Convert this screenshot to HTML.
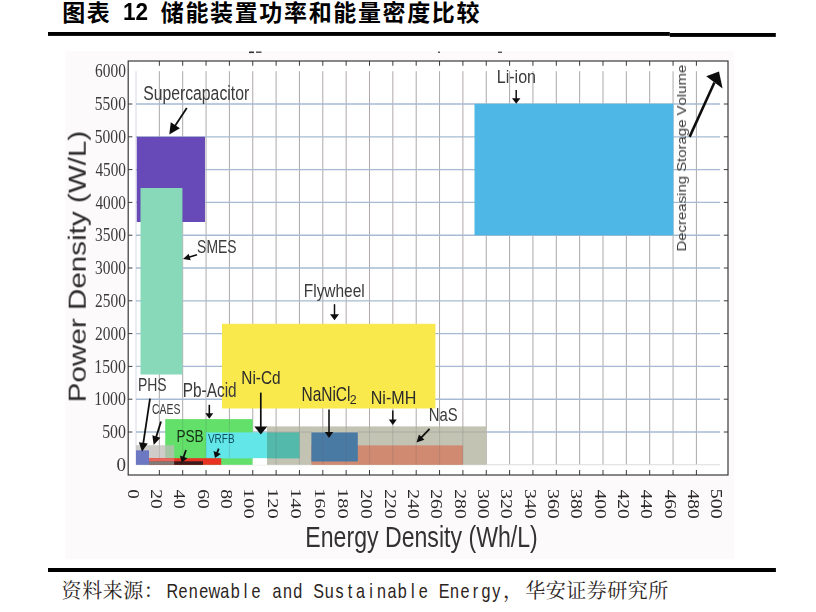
<!DOCTYPE html>
<html lang="zh"><head><meta charset="utf-8"><title>图表 12 储能装置功率和能量密度比较</title>
<style>
html,body{margin:0;padding:0;background:#fff;}
body{width:816px;height:612px;overflow:hidden;font-family:"Liberation Sans",sans-serif;}
svg{display:block;position:absolute;left:0;top:0}
svg text{font-kerning:none;white-space:pre}
</style></head><body>
<svg width="816" height="612" viewBox="0 0 816 612" role="img" aria-label="图表 12 储能装置功率和能量密度比较 — 资料来源：Renewable and Sustainable Energy，华安证券研究所">
<rect width="816" height="612" fill="#fff"/>
<!-- rules -->
<rect x="48" y="32" width="621.8" height="3.9" fill="#000"/>
<rect x="669.8" y="33" width="106" height="3.9" fill="#000"/>
<rect x="48" y="568" width="727.9" height="4" fill="#000"/>
<defs><filter id="soft" x="0" y="0" width="816" height="612" filterUnits="userSpaceOnUse"><feGaussianBlur stdDeviation="0.45"/></filter><filter id="crisp" x="100" y="0" width="80" height="30" filterUnits="userSpaceOnUse"><feGaussianBlur stdDeviation="0.12"/></filter></defs>
<g id="chart" filter="url(#soft)">
<rect x="65.5" y="51.5" width="668.5" height="507.8" fill="#fcfafa"/>
<rect x="128.2" y="61" width="599.8" height="414" fill="#fff"/>
<g id="grid">
<line x1="136" y1="71.2" x2="136" y2="464.8" stroke="#d3dae4" stroke-width="1"/>
<line x1="159.35" y1="71.2" x2="159.35" y2="464.8" stroke="#aea8a8" stroke-width="1"/>
<line x1="182.7" y1="71.2" x2="182.7" y2="464.8" stroke="#aea8a8" stroke-width="1"/>
<line x1="206.05" y1="71.2" x2="206.05" y2="464.8" stroke="#aea8a8" stroke-width="1"/>
<line x1="229.4" y1="71.2" x2="229.4" y2="464.8" stroke="#aea8a8" stroke-width="1"/>
<line x1="252.75" y1="71.2" x2="252.75" y2="464.8" stroke="#aea8a8" stroke-width="1"/>
<line x1="276.1" y1="71.2" x2="276.1" y2="464.8" stroke="#aea8a8" stroke-width="1"/>
<line x1="299.45" y1="71.2" x2="299.45" y2="464.8" stroke="#aea8a8" stroke-width="1"/>
<line x1="322.8" y1="71.2" x2="322.8" y2="464.8" stroke="#aea8a8" stroke-width="1"/>
<line x1="346.15" y1="71.2" x2="346.15" y2="464.8" stroke="#aea8a8" stroke-width="1"/>
<line x1="369.5" y1="71.2" x2="369.5" y2="464.8" stroke="#aea8a8" stroke-width="1"/>
<line x1="392.85" y1="71.2" x2="392.85" y2="464.8" stroke="#aea8a8" stroke-width="1"/>
<line x1="416.2" y1="71.2" x2="416.2" y2="464.8" stroke="#aea8a8" stroke-width="1"/>
<line x1="439.55" y1="71.2" x2="439.55" y2="464.8" stroke="#aea8a8" stroke-width="1"/>
<line x1="462.9" y1="71.2" x2="462.9" y2="464.8" stroke="#aea8a8" stroke-width="1"/>
<line x1="486.25" y1="71.2" x2="486.25" y2="464.8" stroke="#aea8a8" stroke-width="1"/>
<line x1="509.6" y1="71.2" x2="509.6" y2="464.8" stroke="#aea8a8" stroke-width="1"/>
<line x1="532.95" y1="71.2" x2="532.95" y2="464.8" stroke="#aea8a8" stroke-width="1"/>
<line x1="556.3" y1="71.2" x2="556.3" y2="464.8" stroke="#aea8a8" stroke-width="1"/>
<line x1="579.65" y1="71.2" x2="579.65" y2="464.8" stroke="#aea8a8" stroke-width="1"/>
<line x1="603" y1="71.2" x2="603" y2="464.8" stroke="#aea8a8" stroke-width="1"/>
<line x1="626.35" y1="71.2" x2="626.35" y2="464.8" stroke="#aea8a8" stroke-width="1"/>
<line x1="649.7" y1="71.2" x2="649.7" y2="464.8" stroke="#aea8a8" stroke-width="1"/>
<line x1="673.05" y1="71.2" x2="673.05" y2="464.8" stroke="#aea8a8" stroke-width="1"/>
<line x1="696.4" y1="71.2" x2="696.4" y2="464.8" stroke="#aea8a8" stroke-width="1"/>
<line x1="136" y1="432" x2="720.05" y2="432" stroke="#a6bbd1" stroke-width="1.35"/>
<line x1="136" y1="399.2" x2="720.05" y2="399.2" stroke="#a6bbd1" stroke-width="1.35"/>
<line x1="136" y1="366.4" x2="720.05" y2="366.4" stroke="#a6bbd1" stroke-width="1.35"/>
<line x1="136" y1="333.6" x2="720.05" y2="333.6" stroke="#a6bbd1" stroke-width="1.35"/>
<line x1="136" y1="300.8" x2="720.05" y2="300.8" stroke="#a6bbd1" stroke-width="1.35"/>
<line x1="136" y1="268" x2="720.05" y2="268" stroke="#a6bbd1" stroke-width="1.35"/>
<line x1="136" y1="235.2" x2="720.05" y2="235.2" stroke="#a6bbd1" stroke-width="1.35"/>
<line x1="136" y1="202.4" x2="720.05" y2="202.4" stroke="#a6bbd1" stroke-width="1.35"/>
<line x1="136" y1="169.6" x2="720.05" y2="169.6" stroke="#a6bbd1" stroke-width="1.35"/>
<line x1="136" y1="136.8" x2="720.05" y2="136.8" stroke="#a6bbd1" stroke-width="1.35"/>
<line x1="136" y1="104" x2="720.05" y2="104" stroke="#a6bbd1" stroke-width="1.35"/>
<line x1="136" y1="464.8" x2="720.05" y2="464.8" stroke="#dcdcdc" stroke-width="1.1"/>
</g>
<g id="boxes">
<rect x="136.8" y="136.8" width="68.2" height="85.2" fill="#6748b8"/>
<rect x="140.5" y="188" width="41.9" height="186.5" fill="#88d9ba"/>
<rect x="474.5" y="103.8" width="198.9" height="131.4" fill="#50b7e6"/>
<rect x="222" y="323.8" width="213.4" height="84.7" fill="#f9e94e"/>
<rect x="267" y="426.4" width="219.3" height="38.4" fill="#c3c3b3"/>
<rect x="165.2" y="419.1" width="87.5" height="45.7" fill="#62e06a"/>
<rect x="136" y="445.2" width="38.2" height="19.6" fill="#bdbcb8" fill-opacity="0.75"/>
<rect x="136" y="450.3" width="13" height="14.5" fill="#6c78c2"/>
<rect x="206" y="432.4" width="61" height="26" fill="#62e6e8"/>
<rect x="267" y="432.4" width="32.5" height="26" fill="#52b9aa"/>
<rect x="252.7" y="458.4" width="14.3" height="6.4" fill="#ffffff"/>
<rect x="311.4" y="445.4" width="151.5" height="19.4" fill="#d08a72"/>
<rect x="311.4" y="432.4" width="46.4" height="29.1" fill="#4a7aa4"/>
<rect x="149" y="458.2" width="72.2" height="6.6" fill="#e83222"/>
<rect x="149" y="458.2" width="25.2" height="3.1" fill="#e8665c"/>
<rect x="149" y="461.3" width="25.2" height="3.5" fill="#7f7b78"/>
<rect x="174.2" y="461.3" width="28.8" height="3.5" fill="#3a1c1a"/>
</g>
<path d="M276.1 426.6V464.6M299.45 426.6V464.6M322.8 426.6V464.6M346.15 426.6V464.6M369.5 426.6V464.6M392.85 426.6V464.6M416.2 426.6V464.6M439.55 426.6V464.6M462.9 426.6V464.6M182.7 419.3V458M206.05 419.3V458M229.4 419.3V458M267.2 432H311.4M357.8 432H486" stroke="#5a5a5a" stroke-opacity="0.2" stroke-width="1" fill="none"/>
<g id="frame" stroke="#3a3a3a" stroke-width="1.2" fill="none">
<rect x="128.2" y="61" width="599.8" height="414"/>
<path d="M159.35 475V470M159.35 61V65.8M182.7 475V470M182.7 61V65.8M206.05 475V470M206.05 61V65.8M229.4 475V470M229.4 61V65.8M252.75 475V470M252.75 61V65.8M276.1 475V470M276.1 61V65.8M299.45 475V470M299.45 61V65.8M322.8 475V470M322.8 61V65.8M346.15 475V470M346.15 61V65.8M369.5 475V470M369.5 61V65.8M392.85 475V470M392.85 61V65.8M416.2 475V470M416.2 61V65.8M439.55 475V470M439.55 61V65.8M462.9 475V470M462.9 61V65.8M486.25 475V470M486.25 61V65.8M509.6 475V470M509.6 61V65.8M532.95 475V470M532.95 61V65.8M556.3 475V470M556.3 61V65.8M579.65 475V470M579.65 61V65.8M603 475V470M603 61V65.8M626.35 475V470M626.35 61V65.8M649.7 475V470M649.7 61V65.8M673.05 475V470M673.05 61V65.8M696.4 475V470M696.4 61V65.8M128.2 432H132.4M728 432H723.8M128.2 399.2H132.4M728 399.2H723.8M128.2 366.4H132.4M728 366.4H723.8M128.2 333.6H132.4M728 333.6H723.8M128.2 300.8H132.4M728 300.8H723.8M128.2 268H132.4M728 268H723.8M128.2 235.2H132.4M728 235.2H723.8M128.2 202.4H132.4M728 202.4H723.8M128.2 169.6H132.4M728 169.6H723.8M128.2 136.8H132.4M728 136.8H723.8M128.2 104H132.4M728 104H723.8" stroke-width="1"/>
</g>
<rect x="249" y="51.5" width="5" height="1.6" fill="#333"/><rect x="256" y="51.5" width="5.5" height="1.4" fill="#444"/><rect x="438" y="51.6" width="2" height="1.3" fill="#444"/><rect x="498" y="51.6" width="4" height="1.3" fill="#444"/>
<g id="arrows">
<line x1="186.8" y1="108" x2="174.81" y2="126.16" stroke="#111" stroke-width="1.8"/>
<path d="M169.3 134.5L170.77 122.29L179.95 128.35Z" fill="#111"/>
<line x1="197" y1="254.8" x2="188.75" y2="257.28" stroke="#111" stroke-width="1.7"/>
<path d="M183 259L188.7 253.64L190.71 260.34Z" fill="#111"/>
<line x1="516.2" y1="90" x2="516.2" y2="99.3" stroke="#111" stroke-width="1.5"/>
<path d="M516.2 103.8L511.95 98.3L520.45 98.3Z" fill="#111"/>
<line x1="334.5" y1="304.2" x2="334.5" y2="315.3" stroke="#111" stroke-width="1.5"/>
<path d="M334.5 320.3L330 314.3L339 314.3Z" fill="#111"/>
<line x1="689.6" y1="136.9" x2="714.4" y2="82.5" stroke="#111" stroke-width="2.6"/><path d="M706.2 76.3L719 71.4L722.6 88.6Z" fill="#111"/>
<line x1="260.8" y1="392.6" x2="260.8" y2="427.5" stroke="#111" stroke-width="1.7"/>
<path d="M260.8 434.5L254.3 426.5L267.3 426.5Z" fill="#111"/>
<line x1="329" y1="409.4" x2="329" y2="433" stroke="#111" stroke-width="1.6"/>
<path d="M329 438L324.75 432L333.25 432Z" fill="#111"/>
<line x1="392.8" y1="410.5" x2="392.8" y2="420.5" stroke="#111" stroke-width="1.5"/>
<path d="M392.8 425L388.8 419.5L396.8 419.5Z" fill="#111"/>
<line x1="429.6" y1="428.8" x2="420.98" y2="437.89" stroke="#111" stroke-width="1.8"/>
<path d="M416.5 442.6L418.94 434.58L424.38 439.74Z" fill="#111"/>
<line x1="209.3" y1="404.8" x2="209.3" y2="414.2" stroke="#111" stroke-width="1.6"/>
<path d="M209.3 418.7L205.3 413.2L213.3 413.2Z" fill="#111"/>
<line x1="150" y1="398.7" x2="143.19" y2="443.79" stroke="#111" stroke-width="1.8"/>
<path d="M142 451.7L138.89 442.13L147.79 443.47Z" fill="#111"/>
<line x1="161" y1="421.5" x2="156.07" y2="437.36" stroke="#111" stroke-width="1.8"/>
<path d="M153.7 445L152.31 435.14L160.43 437.67Z" fill="#111"/>
<line x1="186" y1="450" x2="183.33" y2="457.77" stroke="#111" stroke-width="1.8"/>
<path d="M181.7 462.5L179.87 455.53L187.43 458.13Z" fill="#111"/>
<line x1="218.7" y1="448.7" x2="216.85" y2="453.35" stroke="#111" stroke-width="1.8"/>
<path d="M215 458L213.5 450.95L220.93 453.9Z" fill="#111"/>
</g>
<g id="labels" style="font-kerning:none">
<text transform="translate(143.21 99.7) scale(0.8056 1)" font-family="Liberation Sans" font-size="19.57" fill="#3a3a3a">Supercapacitor</text>
<text transform="translate(197.1 253.3) scale(0.7507 1)" font-family="Liberation Sans" font-size="18.57" fill="#3a3a3a">SMES</text>
<text transform="translate(496.71 82.5) scale(0.8538 1)" font-family="Liberation Sans" font-size="18.84" fill="#3a3a3a">Li-ion</text>
<text transform="translate(303.76 296.7) scale(0.8213 1)" font-family="Liberation Sans" font-size="18.84" fill="#3a3a3a">Flywheel</text>
<text transform="translate(241.27 384) scale(0.8171 1)" font-family="Liberation Sans" font-size="18.84" fill="#2a2a2a">Ni-Cd</text>
<text transform="translate(301.46 400.7) scale(0.7693 1)" font-family="Liberation Sans" font-size="20.14" fill="#2a2a2a">NaNiCl</text>
<text transform="translate(349.68 404.3) scale(0.9857 1)" font-family="Liberation Sans" font-size="12.57" fill="#2a2a2a">2</text>
<text transform="translate(370.71 403.6) scale(0.8819 1)" font-family="Liberation Sans" font-size="18.26" fill="#2a2a2a">Ni-MH</text>
<text transform="translate(428.81 421) scale(0.8189 1)" font-family="Liberation Sans" font-size="18.12" fill="#3a3a3a">NaS</text>
<text transform="translate(137.88 390.7) scale(0.7313 1)" font-family="Liberation Sans" font-size="19.13" fill="#3a3a3a">PHS</text>
<text transform="translate(182.77 397) scale(0.7584 1)" font-family="Liberation Sans" font-size="20.29" fill="#3a3a3a">Pb-Acid</text>
<text transform="translate(151.98 414) scale(0.7319 1)" font-family="Liberation Sans" font-size="14.29" fill="#3a3a3a">CAES</text>
<text transform="translate(176.41 441.7) scale(0.8042 1)" font-family="Liberation Sans" font-size="16.96" fill="#163016">PSB</text>
<text transform="translate(207.9 443) scale(0.7419 1)" font-family="Liberation Sans" font-size="13.48" fill="#10505e">VRFB</text>
<text transform="translate(305.35 547) scale(0.8055 1)" font-family="Liberation Sans" font-size="28.7" fill="#333">Energy Density (Wh/L)</text>
<text transform="translate(116.54 470.94) scale(1.0461 1)" font-family="Liberation Serif" font-size="18.21" fill="#3a3a3a">0</text>
<text transform="translate(102.15 438.14) scale(0.8708 1)" font-family="Liberation Serif" font-size="18.21" fill="#3a3a3a">500</text>
<text transform="translate(94.28 405.34) scale(0.8823 1)" font-family="Liberation Serif" font-size="17.94" fill="#3a3a3a">1000</text>
<text transform="translate(94.28 372.54) scale(0.8823 1)" font-family="Liberation Serif" font-size="17.94" fill="#3a3a3a">1500</text>
<text transform="translate(95.08 339.74) scale(0.8467 1)" font-family="Liberation Serif" font-size="18.21" fill="#3a3a3a">2000</text>
<text transform="translate(95.08 306.94) scale(0.8467 1)" font-family="Liberation Serif" font-size="18.21" fill="#3a3a3a">2500</text>
<text transform="translate(94.93 274.14) scale(0.8511 1)" font-family="Liberation Serif" font-size="18.21" fill="#3a3a3a">3000</text>
<text transform="translate(94.93 241.34) scale(0.8511 1)" font-family="Liberation Serif" font-size="18.21" fill="#3a3a3a">3500</text>
<text transform="translate(95.39 208.54) scale(0.8379 1)" font-family="Liberation Serif" font-size="18.21" fill="#3a3a3a">4000</text>
<text transform="translate(95.39 175.74) scale(0.8379 1)" font-family="Liberation Serif" font-size="18.21" fill="#3a3a3a">4500</text>
<text transform="translate(94.77 142.94) scale(0.8556 1)" font-family="Liberation Serif" font-size="18.21" fill="#3a3a3a">5000</text>
<text transform="translate(94.77 110.14) scale(0.8556 1)" font-family="Liberation Serif" font-size="18.21" fill="#3a3a3a">5500</text>
<text transform="translate(95.08 77.34) scale(0.8467 1)" font-family="Liberation Serif" font-size="18.21" fill="#3a3a3a">6000</text>
<text transform="translate(127.72 489.24) rotate(90) scale(1.2040 1)" font-family="Liberation Serif" font-size="15.82" fill="#2a2a2a">0</text>
<text transform="translate(151.07 489.22) rotate(90) scale(1.2367 1)" font-family="Liberation Serif" font-size="15.82" fill="#2a2a2a">20</text>
<text transform="translate(174.42 489.62) rotate(90) scale(1.2104 1)" font-family="Liberation Serif" font-size="15.82" fill="#2a2a2a">40</text>
<text transform="translate(197.77 489.22) rotate(90) scale(1.2367 1)" font-family="Liberation Serif" font-size="15.82" fill="#2a2a2a">60</text>
<text transform="translate(221.12 489.22) rotate(90) scale(1.2367 1)" font-family="Liberation Serif" font-size="15.82" fill="#2a2a2a">80</text>
<text transform="translate(244.46 488.16) rotate(90) scale(1.3111 1)" font-family="Liberation Serif" font-size="15.59" fill="#2a2a2a">100</text>
<text transform="translate(267.81 488.16) rotate(90) scale(1.3111 1)" font-family="Liberation Serif" font-size="15.59" fill="#2a2a2a">120</text>
<text transform="translate(291.16 488.16) rotate(90) scale(1.3111 1)" font-family="Liberation Serif" font-size="15.59" fill="#2a2a2a">140</text>
<text transform="translate(314.51 488.16) rotate(90) scale(1.3111 1)" font-family="Liberation Serif" font-size="15.59" fill="#2a2a2a">160</text>
<text transform="translate(337.86 488.16) rotate(90) scale(1.3111 1)" font-family="Liberation Serif" font-size="15.59" fill="#2a2a2a">180</text>
<text transform="translate(361.22 489.21) rotate(90) scale(1.2463 1)" font-family="Liberation Serif" font-size="15.82" fill="#2a2a2a">200</text>
<text transform="translate(384.57 489.21) rotate(90) scale(1.2463 1)" font-family="Liberation Serif" font-size="15.82" fill="#2a2a2a">220</text>
<text transform="translate(407.92 489.21) rotate(90) scale(1.2463 1)" font-family="Liberation Serif" font-size="15.82" fill="#2a2a2a">240</text>
<text transform="translate(431.27 489.21) rotate(90) scale(1.2463 1)" font-family="Liberation Serif" font-size="15.82" fill="#2a2a2a">260</text>
<text transform="translate(454.62 489.21) rotate(90) scale(1.2463 1)" font-family="Liberation Serif" font-size="15.82" fill="#2a2a2a">280</text>
<text transform="translate(477.97 489.01) rotate(90) scale(1.2552 1)" font-family="Liberation Serif" font-size="15.82" fill="#2a2a2a">300</text>
<text transform="translate(501.32 489.01) rotate(90) scale(1.2552 1)" font-family="Liberation Serif" font-size="15.82" fill="#2a2a2a">320</text>
<text transform="translate(524.67 489.01) rotate(90) scale(1.2552 1)" font-family="Liberation Serif" font-size="15.82" fill="#2a2a2a">340</text>
<text transform="translate(548.02 489.01) rotate(90) scale(1.2552 1)" font-family="Liberation Serif" font-size="15.82" fill="#2a2a2a">360</text>
<text transform="translate(571.37 489.01) rotate(90) scale(1.2552 1)" font-family="Liberation Serif" font-size="15.82" fill="#2a2a2a">380</text>
<text transform="translate(594.72 489.61) rotate(90) scale(1.2290 1)" font-family="Liberation Serif" font-size="15.82" fill="#2a2a2a">400</text>
<text transform="translate(618.07 489.61) rotate(90) scale(1.2290 1)" font-family="Liberation Serif" font-size="15.82" fill="#2a2a2a">420</text>
<text transform="translate(641.42 489.61) rotate(90) scale(1.2290 1)" font-family="Liberation Serif" font-size="15.82" fill="#2a2a2a">440</text>
<text transform="translate(664.77 489.61) rotate(90) scale(1.2290 1)" font-family="Liberation Serif" font-size="15.82" fill="#2a2a2a">460</text>
<text transform="translate(688.12 489.61) rotate(90) scale(1.2290 1)" font-family="Liberation Serif" font-size="15.82" fill="#2a2a2a">480</text>
<text transform="translate(711.47 488.8) rotate(90) scale(1.2642 1)" font-family="Liberation Serif" font-size="15.82" fill="#2a2a2a">500</text>
<text transform="translate(85.7 402.37) rotate(-90) scale(1.2253 1)" font-family="Liberation Sans" font-size="24.2" fill="#2a2a2a">Power Density (W/L)</text>
<text transform="translate(686 251.5) rotate(-90) scale(1.1852 1)" font-family="Liberation Sans" font-size="12.61" fill="#3a3a3a">Decreasing Storage Volume</text>
</g>
</g>
<g id="title">
<g fill="#000">
<text x="62.3 86.7" y="20.8" font-family="'Liberation Sans','Noto Sans CJK SC',sans-serif" font-size="23" font-weight="bold" fill="#000">图表</text>
<text x="160.8 185.44 210.08 234.72 259.36 284 308.64 333.28 357.92 382.56 407.2 431.84 456.48" y="20.8" font-family="'Liberation Sans','Noto Sans CJK SC',sans-serif" font-size="23" font-weight="bold" fill="#000">储能装置功率和能量密度比较</text>
</g>
<g filter="url(#crisp)" style="font-kerning:none"><text transform="translate(123.05 20.3) scale(0.9754 1)" font-family="Liberation Sans" font-size="23.14" font-weight="bold" fill="#000">12</text></g>
</g>
<g id="source">
<g fill="#2b241c">
<text x="61.6 82.15 102.7 123.25 143.8" y="598.2" font-family="'Liberation Serif','Noto Serif CJK SC',serif" font-size="20" fill="#2b241c">资料来源：</text>
</g>
<text transform="translate(0 597.6) scale(0.78 1)" x="213.62 228.73 242.13 255.53 267.21 282.32 295.72 312.57 322.51 338.79 349.31 362.71 376.1 392.38 401.75 416.3 430.27 445.97 456.49 473.34 483.28 496.68 510.08 526.93 536.87 553.15 562.52 577.06 590.46 606.17 617.26 631.24" y="0" font-family="Liberation Sans" font-size="20.7" fill="#2b241c">Renewable and Sustainable Energy</text>
<g fill="#2b241c">
<text x="525.2 545.7 566.2 586.7 607.2 627.7 648.2" y="598.2" font-family="'Liberation Serif','Noto Serif CJK SC',serif" font-size="20" fill="#2b241c">华安证券研究所</text>
</g><g fill="#2b241c">
<text x="503" y="598.2" font-family="'Liberation Serif','Noto Serif CJK SC',serif" font-size="20" fill="#2b241c">，</text>
</g>
</g>
</svg>
</body></html>
